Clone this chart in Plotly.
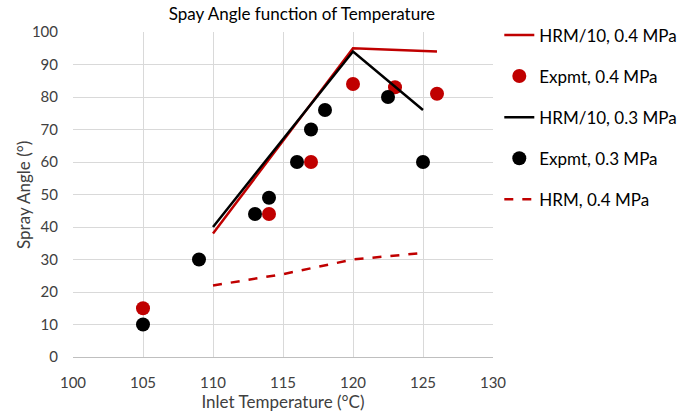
import plotly.graph_objects as go

# Data
hrm10_04_x = [110, 120, 126]
hrm10_04_y = [38, 95, 94]
exp_04_x = [105, 114, 117, 120, 123, 126]
exp_04_y = [15, 44, 60, 84, 83, 81]
hrm10_03_x = [110, 120, 125]
hrm10_03_y = [40, 94, 76]
exp_03_x = [105, 109, 113, 114, 116, 117, 118, 122.5, 125]
exp_03_y = [10, 30, 44, 49, 60, 70, 76, 80, 60]
hrm_04_x = [110, 115, 120, 125]
hrm_04_y = [22, 25.5, 30, 32]

RED = "#C00000"
BLACK = "#000000"
FONT = "Lato, Open Sans, sans-serif"

fig = go.Figure()
fig.add_trace(go.Scatter(x=hrm10_04_x, y=hrm10_04_y, mode="lines", name="HRM/10, 0.4 MPa",
                         line=dict(color=RED, width=2.5), legendgroup="a"))
fig.add_trace(go.Scatter(x=exp_04_x, y=exp_04_y, mode="markers", name="Expmt, 0.4 MPa",
                         marker=dict(color=RED, size=14), legendgroup="b"))
fig.add_trace(go.Scatter(x=hrm10_03_x, y=hrm10_03_y, mode="lines", name="HRM/10, 0.3 MPa",
                         line=dict(color=BLACK, width=2.5), legendgroup="c"))
fig.add_trace(go.Scatter(x=exp_03_x, y=exp_03_y, mode="markers", name="Expmt, 0.3 MPa",
                         marker=dict(color=BLACK, size=14), legendgroup="d"))
fig.add_trace(go.Scatter(x=hrm_04_x, y=hrm_04_y, mode="lines", name="HRM, 0.4 MPa",
                         line=dict(color=RED, width=2.5, dash="dash"), legendgroup="e"))

fig.update_layout(
    width=694, height=414,
    margin=dict(l=73, r=197, t=32, b=57),
    paper_bgcolor="white", plot_bgcolor="white",
    font=dict(family=FONT, color="#404040", size=15),
    title=dict(text="Spay Angle function of Temperature", x=0.435, xanchor="center",
               y=0.965, yanchor="middle", font=dict(size=17, color="#000000")),
    legend=dict(x=1.015, y=1.045, xanchor="left", yanchor="top", tracegroupgap=16,
                traceorder="grouped", font=dict(size=17, color="#000000"),
                itemwidth=30),
    showlegend=True,
    annotations=[dict(text="Spray Angle (°)", xref="paper", yref="paper",
                      x=-0.118, y=0.5, xanchor="center", yanchor="middle",
                      textangle=-90, showarrow=False,
                      font=dict(size=17, color="#404040"))],
)
fig.update_xaxes(range=[100, 130], tickvals=[100, 105, 110, 115, 120, 125, 130],
                 showgrid=True, gridcolor="#D9D9D9", gridwidth=1,
                 zeroline=False, showline=True, linecolor="#BFBFBF",
                 mirror=False, ticks="", ticklabelstandoff=12, automargin=False,
                 tickfont=dict(color="#404040", size=15),
                 title=dict(text="Inlet Temperature (°C)", font=dict(size=17, color="#404040"), standoff=2))
fig.update_yaxes(range=[0, 100], tickvals=list(range(0, 101, 10)),
                 showgrid=True, gridcolor="#D9D9D9", gridwidth=1,
                 zeroline=False, showline=False, ticks="", ticklabelstandoff=14, automargin=False,
                 tickfont=dict(color="#404040", size=15))

fig.write_html("out.html")
